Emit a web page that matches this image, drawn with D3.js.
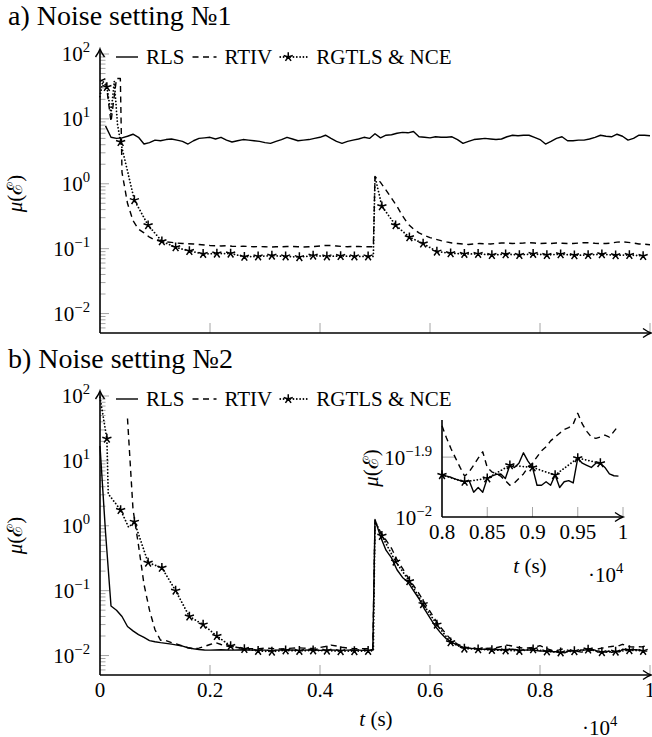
<!DOCTYPE html>
<html>
<head>
<meta charset="utf-8">
<script src="https://cdn.jsdelivr.net/npm/d3@7"></script>
<style>
  body { margin: 0; background: #fff; }
  svg text { font-family: "Liberation Serif", "DejaVu Serif", serif; fill: #000; }
</style>
</head>
<body>
<svg id="chart" width="652" height="737"></svg>
<script>
// time grids (s)
const tA = d3.range(0, 10001, 100);        // panel a, every 100 s
const tB = d3.range(0, 8000, 100);         // panel b up to 7900 s
const tFine = d3.range(8000, 10000, 50);   // panel b / inset, every 50 s
const tStars = d3.range(125, 10000, 250);  // RGTLS marks
const tInsetStars = d3.range(8000, 10000, 250);

const legendLabels = ["RLS", "RTIV", "RGTLS & NCE"];
const xTicks = [0, 2000, 4000, 6000, 8000, 10000];
const xTickLabels = ["0", "0.2", "0.4", "0.6", "0.8", "1"];
const insetXTicks = [8000, 8500, 9000, 9500, 10000];
const insetXTickLabels = ["0.8", "0.85", "0.9", "0.95", "1"];
const insetYExp = [-2, -1.9];

// ---- panel a : noise setting 1 ----
const rlsA = [null, 7.8, 5.2, 5.0, 5.1, 5.4, 5.8, 5.2, 4.1, 4.3,
  4.7, 4.6, 4.8, 4.9, 4.7, 4.5, 4.1, 4.6, 5.0, 5.1,
  5.2, 4.9, 5.2, 4.7, 4.4, 4.6, 4.8, 4.7, 4.6, 4.5,
  4.3, 4.2, 4.5, 4.8, 5.2, 4.9, 4.6, 4.7, 4.8, 5.0,
  5.2, 5.6, 5.0, 4.5, 4.2, 4.5, 4.7, 4.9, 5.2, 5.0,
  5.9, 5.1, 5.6, 5.7, 6.0, 6.2, 6.1, 6.4, 5.3, 5.2,
  5.1, 5.3, 5.2, 5.2, 5.3, 4.8, 4.2, 4.5, 4.8, 4.9,
  5.0, 4.9, 4.8, 4.9, 5.3, 5.6, 5.5, 5.6, 5.6, 5.2,
  4.8, 4.1, 4.5, 5.0, 5.3, 4.6, 4.6, 4.7, 4.7, 4.9,
  5.2, 5.6, 5.4, 5.3, 5.8, 5.4, 4.7, 5.0, 5.6, 5.6,
  5.5];
const rtivA = [38, 42, 9, 42, 1.5, 0.5, 0.27, 0.2, 0.175, 0.15,
  0.136, 0.13, 0.127, 0.125, 0.122, 0.12, 0.119, 0.118, 0.116, 0.114,
  0.112, 0.111, 0.11, 0.111, 0.109, 0.108, 0.109, 0.108, 0.107, 0.108,
  0.107, 0.106, 0.107, 0.107, 0.108, 0.108, 0.107, 0.106, 0.107, 0.108,
  0.11, 0.112, 0.112, 0.11, 0.108, 0.107, 0.108, 0.108, 0.107, 0.107,
  1.3, 1.05, 0.8, 0.6, 0.45, 0.32, 0.24, 0.2, 0.175, 0.16,
  0.148, 0.14, 0.133, 0.127, 0.122, 0.12, 0.118, 0.116, 0.118, 0.12,
  0.119, 0.118, 0.12, 0.122, 0.122, 0.12, 0.121, 0.122, 0.124, 0.122,
  0.12, 0.121, 0.12, 0.122, 0.121, 0.12, 0.12, 0.122, 0.124, 0.123,
  0.121, 0.12, 0.12, 0.122, 0.126, 0.127, 0.125, 0.122, 0.118, 0.117,
  0.115];
const rtivAExtra = [[370, 42], [4970, 0.107]];
const rgtlsA = [31, 4.4, 0.56, 0.23, 0.13, 0.105, 0.092, 0.083, 0.084, 0.084,
  0.075, 0.076, 0.078, 0.076, 0.074, 0.078, 0.076, 0.077, 0.076, 0.076,
  0.45, 0.23, 0.15, 0.12, 0.09, 0.085, 0.083, 0.083, 0.08, 0.082,
  0.08, 0.083, 0.08, 0.082, 0.079, 0.08, 0.082, 0.079, 0.08, 0.077];
const rgtlsAExtra = [[0, 22], [50, 38], [200, 12], [260, 38], [320, 8], [4970, 0.076], [5000, 1.3]];

// ---- panel b : noise setting 2 ----
const rlsB = [17, 0.8, 0.058, 0.05, 0.04, 0.028, 0.024, 0.021, 0.019, 0.017,
  0.0163, 0.0158, 0.0154, 0.015, 0.0145, 0.014, 0.0132, 0.0127, 0.0124, 0.0122,
  0.0121, 0.0122, 0.0123, 0.0122, 0.0121, 0.0122, 0.0123, 0.0122, 0.0121, 0.0122,
  0.0121, 0.012, 0.0121, 0.0122, 0.0121, 0.0122, 0.012, 0.0121, 0.0122, 0.0121,
  0.012, 0.0121, 0.0122, 0.0121, 0.012, 0.0121, 0.0122, 0.0121, 0.012, 0.0121,
  1.25, 0.68, 0.42, 0.32, 0.21, 0.16, 0.135, 0.1, 0.075, 0.052,
  0.038, 0.028, 0.022, 0.018, 0.016, 0.0145, 0.0135, 0.013, 0.0128, 0.0126,
  0.0125, 0.0124, 0.0124, 0.0123, 0.0124, 0.0125, 0.0122, 0.0121, 0.0122, 0.012];
const rlsBFine = [0.01175, 0.0117, 0.01165, 0.01157, 0.0115, 0.01145, 0.0115, 0.011, 0.0112, 0.011,
  0.0116, 0.0117, 0.01178, 0.0118, 0.0116, 0.0122, 0.0121, 0.0123, 0.0128, 0.0124,
  0.0121, 0.0113, 0.0113, 0.01145, 0.0113, 0.01175, 0.0112, 0.01145, 0.0115, 0.0114,
  0.01254, 0.0123, 0.0122, 0.0121, 0.0123, 0.0123, 0.0121, 0.0118, 0.01172, 0.0117];
const rlsBExtra = [[4960, 0.0121]];
const rtivB = [null, null, null, null, null, 45, 1.8, 0.5, 0.125, 0.05,
  0.025, 0.0172, 0.017, 0.0158, 0.015, 0.014, 0.0132, 0.0127, 0.013, 0.0138,
  0.0148, 0.0158, 0.0148, 0.014, 0.0136, 0.0133, 0.013, 0.0128, 0.0127, 0.0128,
  0.013, 0.0129, 0.0127, 0.0126, 0.0128, 0.013, 0.0132, 0.013, 0.0128, 0.013,
  0.0133, 0.0138, 0.0145, 0.014, 0.0134, 0.013, 0.0128, 0.0127, 0.0128, 0.0127,
  1.15, 0.8, 0.6, 0.45, 0.3, 0.22, 0.16, 0.12, 0.09, 0.065,
  0.048, 0.035, 0.027, 0.021, 0.017, 0.015, 0.0138, 0.0131, 0.0128, 0.0127,
  0.0128, 0.013, 0.0132, 0.0138, 0.0145, 0.014, 0.0133, 0.013, 0.0131, 0.0134];
const rtivBFine = [0.0142, 0.01355, 0.013, 0.01254, 0.0121, 0.0117, 0.0119, 0.0122, 0.01254, 0.01285,
  0.0121, 0.0119, 0.0118, 0.0117, 0.0115, 0.0113, 0.0114, 0.0116, 0.0118, 0.0121,
  0.0123, 0.0126, 0.0129, 0.0131, 0.0134, 0.0136, 0.0138, 0.014, 0.0141, 0.0143,
  0.0149, 0.0143, 0.0139, 0.0136, 0.01353, 0.0136, 0.0137, 0.0136, 0.0139, 0.0142];
const rtivBExtra = [[4960, 0.0127]];
const rgtlsB = [22, 1.75, 1.15, 0.27, 0.225, 0.1, 0.04, 0.03, 0.02, 0.014,
  0.0126, 0.0118, 0.0115, 0.012, 0.0118, 0.012, 0.0119, 0.0117, 0.0117, 0.0118,
  0.7, 0.28, 0.14, 0.062, 0.03, 0.016, 0.0128, 0.0125, 0.0122, 0.012,
  0.0118, 0.0125, 0.0116, 0.0112, 0.0117, 0.0124, 0.0113, 0.0115, 0.0121, 0.0118];
const rgtlsBExtra = [[0, 95], [150, 3.1], [520, 0.95], [4970, 0.0118], [5000, 1.2]];
const rgtlsInset = [0.01175, 0.01145, 0.0116, 0.0122, 0.0121, 0.01175, 0.01254, 0.0123];

const svg = d3.select("#chart");
const yMin = Math.pow(10, -2.3);
const tickColor = "#9a9a9a";

function series(ts, vs, extra = []) {
  const out = ts.map((t, i) => ({ t, v: vs[i] })).filter(d => d.v != null);
  extra.forEach(([t, v]) => out.push({ t, v }));
  return out.sort((a, b) => a.t - b.t);
}

const starPath = d3.range(5).map(k => {
  const a = -Math.PI / 2 + k * 2 * Math.PI / 5;
  return `M0,0L${(4.8 * Math.cos(a)).toFixed(2)},${(4.8 * Math.sin(a)).toFixed(2)}`;
}).join("");

const styles = [
  { dash: null, width: 1.4, cap: "butt" },        // RLS
  { dash: "6,4.5", width: 1.4, cap: "butt" },     // RTIV
  { dash: "0.01,3.3", width: 1.8, cap: "round" }  // RGTLS & NCE
];

function fmtExp(n) { return n < 0 ? "\u2212" + Math.abs(n) : String(n); }

function powLabel(g, x, y, base, exp, anchor, size) {
  const t = g.append("text").attr("x", x).attr("y", y)
    .attr("text-anchor", anchor).attr("font-size", size);
  t.append("tspan").text(base);
  t.append("tspan").attr("dy", -size * 0.42).attr("font-size", size * 0.7).text(exp);
  return t;
}

function drawLine(g, xs, ys, data, st) {
  g.append("path").datum(data)
    .attr("d", d3.line().x(d => xs(d.t)).y(d => ys(d.v)))
    .attr("fill", "none").attr("stroke", "#000")
    .attr("stroke-width", st.width)
    .attr("stroke-linecap", st.cap)
    .attr("stroke-linejoin", "round")
    .attr("stroke-dasharray", st.dash);
}

function drawStars(g, xs, ys, data) {
  g.selectAll(null).data(data).join("path")
    .attr("transform", d => `translate(${xs(d.t)},${ys(d.v)})`)
    .attr("d", starPath)
    .attr("stroke", "#000").attr("stroke-width", 1.5).attr("fill", "none");
}

function arrowUp(g, x, y) {
  g.append("path")
    .attr("d", `M${x - 4.5},${y + 8} Q${x - 1},${y + 3} ${x},${y} Q${x + 1},${y + 3} ${x + 4.5},${y + 8}`)
    .attr("fill", "none").attr("stroke", "#000").attr("stroke-width", 1.4);
}
function arrowRight(g, x, y) {
  g.append("path")
    .attr("d", `M${x - 8},${y - 4.5} Q${x - 3},${y - 1} ${x},${y} Q${x - 3},${y + 1} ${x - 8},${y + 4.5}`)
    .attr("fill", "none").attr("stroke", "#000").attr("stroke-width", 1.4);
}

function yLabel(g, x, y) {
  const t = g.append("text").attr("transform", `translate(${x},${y}) rotate(-90)`)
    .attr("text-anchor", "middle").attr("font-size", 21);
  t.append("tspan").attr("font-style", "italic").text("\u03bc");
  t.append("tspan").text("(\u2130)");
}

function timeLabel(g, x, y, size) {
  const t = g.append("text").attr("x", x).attr("y", y).attr("text-anchor", "middle").attr("font-size", size);
  t.append("tspan").attr("font-style", "italic").text("t");
  t.append("tspan").text(" (s)");
}

function drawLegend(g, yc) {
  const sampleW = [22, 24, 28];
  let cx = 116;
  legendLabels.forEach((lab, i) => {
    const st = styles[i];
    g.append("line").attr("x1", cx).attr("x2", cx + sampleW[i]).attr("y1", yc).attr("y2", yc)
      .attr("stroke", "#000").attr("stroke-width", st.width)
      .attr("stroke-linecap", st.cap).attr("stroke-dasharray", st.dash);
    if (i === 2) {
      g.append("path").attr("transform", `translate(${cx + 8},${yc})`).attr("d", starPath)
        .attr("stroke", "#000").attr("stroke-width", 1.5).attr("fill", "none");
    }
    cx += sampleW[i] + 8;
    const t = g.append("text").attr("x", cx).attr("y", yc + 7).attr("font-size", 21).text(lab);
    cx += t.node().getComputedTextLength() + 8;
  });
}

function drawPanel(p) {
  const g = svg.append("g");
  const x = d3.scaleLinear().domain([0, 10000]).range([100, 650]);
  const y = d3.scaleLog().domain([yMin, 100]).range([p.bottom, p.top]);

  g.append("text").attr("x", 8).attr("y", p.titleY).attr("font-size", 28).text(p.title);

  // ticks (drawn inside the axes, grey)
  const tk = g.append("g").attr("stroke", tickColor).attr("stroke-width", 0.9);
  y.ticks().forEach(v => {
    const e = Math.log10(v);
    const major = Math.abs(e - Math.round(e)) < 1e-6;
    tk.append("line").attr("x1", 100).attr("x2", 100 + (major ? 9 : 5.5))
      .attr("y1", y(v)).attr("y2", y(v));
    if (major) powLabel(g, 90, y(v) + 7, "10", fmtExp(Math.round(e)), "end", 21);
  });
  xTicks.slice(1).forEach(v => {
    tk.append("line").attr("x1", x(v)).attr("x2", x(v)).attr("y1", p.bottom).attr("y2", p.bottom - 10);
  });
  if (p.xLabels) {
    xTicks.forEach((v, i) => {
      g.append("text").attr("x", x(v)).attr("y", p.bottom + 22).attr("text-anchor", "middle")
        .attr("font-size", 21).text(xTickLabels[i]);
    });
    timeLabel(g, 376, p.bottom + 51, 21);
    powLabel(g, 582, p.bottom + 60, "\u00b710", "4", "start", 21);
  }

  const plot = g.append("g");
  p.lines.forEach((d, i) => drawLine(plot, x, y, d, styles[i]));
  drawStars(plot, x, y, p.stars);

  // axes
  const ax = g.append("g");
  ax.append("line").attr("x1", 100).attr("x2", 100).attr("y1", p.bottom).attr("y2", p.top - 4)
    .attr("stroke", "#000").attr("stroke-width", 1.6);
  arrowUp(ax, 100, p.top - 5);
  ax.append("line").attr("x1", 100).attr("x2", 650).attr("y1", p.bottom).attr("y2", p.bottom)
    .attr("stroke", "#000").attr("stroke-width", 1.6);
  arrowRight(ax, 651, p.bottom);

  yLabel(g, 22, (p.top + p.bottom) / 2);
  drawLegend(g, p.top + 3);
  return g;
}

const rgtlsAStars = series(tStars, rgtlsA);
drawPanel({
  title: "a) Noise setting \u21161", titleY: 25, top: 54, bottom: 333, xLabels: false,
  lines: [series(tA, rlsA), series(tA, rtivA, rtivAExtra), series(tStars, rgtlsA, rgtlsAExtra)],
  stars: rgtlsAStars
});

const rlsBAll = series(tB.concat(tFine), rlsB.concat(rlsBFine), rlsBExtra);
const rtivBAll = series(tB.concat(tFine), rtivB.concat(rtivBFine), rtivBExtra);
const gb = drawPanel({
  title: "b) Noise setting \u21162", titleY: 368, top: 396, bottom: 675, xLabels: true,
  lines: [rlsBAll, rtivBAll, series(tStars, rgtlsB, rgtlsBExtra)],
  stars: series(tStars, rgtlsB)
});

// ---- inset (panel b, 8000..10000 s) ----
(function inset() {
  const g = gb.append("g");
  const x = d3.scaleLinear().domain([8000, 10000]).range([442, 623]);
  const y = d3.scaleLog().domain([Math.pow(10, -2), Math.pow(10, -1.838)]).range([517, 420]);
  const tk = g.append("g").attr("stroke", tickColor).attr("stroke-width", 0.9);
  insetYExp.forEach(e => {
    const v = Math.pow(10, e);
    if (e > -2) tk.append("line").attr("x1", 442).attr("x2", 455).attr("y1", y(v)).attr("y2", y(v));
    powLabel(g, 432, y(v) + 8, "10", fmtExp(e), "end", 21);
  });
  insetXTicks.forEach((v, i) => {
    if (i > 0) tk.append("line").attr("x1", x(v)).attr("x2", x(v)).attr("y1", 517).attr("y2", 507);
    g.append("text").attr("x", x(v)).attr("y", 539).attr("text-anchor", "middle")
      .attr("font-size", 21).text(insetXTickLabels[i]);
  });
  const inFine = d => d.t >= 8000;
  drawLine(g, x, y, series(tInsetStars, rgtlsInset), styles[2]);
  drawLine(g, x, y, rlsBAll.filter(inFine), styles[0]);
  drawLine(g, x, y, rtivBAll.filter(inFine), styles[1]);
  drawStars(g, x, y, series(tInsetStars, rgtlsInset));
  g.append("line").attr("x1", 442).attr("x2", 442).attr("y1", 517).attr("y2", 420)
    .attr("stroke", "#000").attr("stroke-width", 1.6);
  g.append("line").attr("x1", 442).attr("x2", 622).attr("y1", 517).attr("y2", 517)
    .attr("stroke", "#000").attr("stroke-width", 1.6);
  arrowRight(g, 623, 517);
  yLabel(g, 378, 468);
  timeLabel(g, 530, 573, 21);
  powLabel(g, 588, 582, "\u00b710", "4", "start", 21);
})();
</script>
</body>
</html>
